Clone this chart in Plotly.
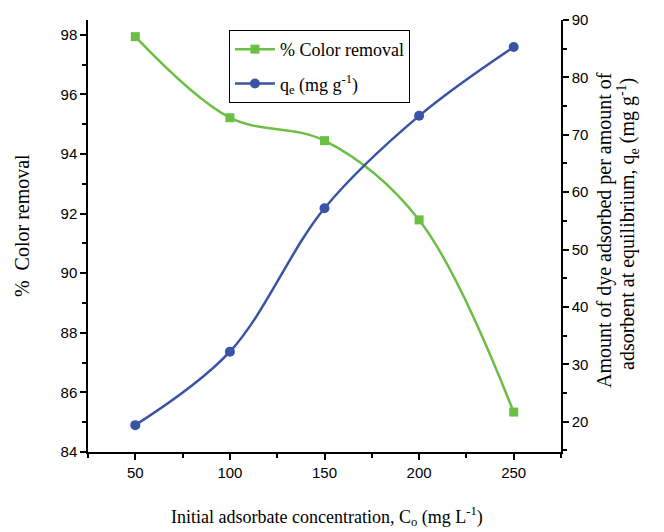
import plotly.graph_objects as go

# Initial adsorbate concentration (mg/L)
concentration = [50, 100, 150, 200, 250]
# Percentage colour removal (left axis)
color_removal = [97.94, 95.22, 94.45, 91.79, 85.34]
# Equilibrium adsorption capacity q_e in mg/g (right axis)
qe = [19.4, 32.2, 57.2, 73.3, 85.3]

x_ticks = [50, 100, 150, 200, 250]
left_ticks = [84, 86, 88, 90, 92, 94, 96, 98]
right_ticks = [20, 30, 40, 50, 60, 70, 80, 90]

GREEN = "#6cbf45"
BLUE = "#3a53a6"
SERIF = "Liberation Serif, Times New Roman, serif"
SANS = "Liberation Sans, Arial, sans-serif"

fig = go.Figure()
fig.add_trace(go.Scatter(
    x=concentration, y=color_removal, name="% Color removal",
    mode="lines+markers", legendgroup="a",
    line=dict(color=GREEN, width=2.5, shape="spline", smoothing=1),
    marker=dict(symbol="square", size=9, color=GREEN),
    yaxis="y",
))
fig.add_trace(go.Scatter(
    x=concentration, y=qe, name="q<sub>e</sub> (mg g<sup>-1</sup>)",
    mode="lines+markers", legendgroup="b",
    line=dict(color=BLUE, width=2.5, shape="spline", smoothing=1),
    marker=dict(symbol="circle", size=10, color=BLUE),
    yaxis="y2",
))

axis_common = dict(
    showgrid=False, zeroline=False, showline=True, linecolor="black",
    linewidth=1.5, ticks="outside", ticklen=6, tickwidth=1.5,
    tickcolor="black", tickfont=dict(family=SANS, size=15, color="black"),
)

fig.update_layout(
    width=664, height=532,
    margin=dict(l=88, r=103, t=20, b=80),
    paper_bgcolor="white", plot_bgcolor="white",
    xaxis=dict(
        range=[25, 275], tickvals=x_ticks,
        minor=dict(dtick=25, tick0=25, ticks="outside", ticklen=4,
                   tickwidth=1.5, tickcolor="black"),
        **axis_common,
    ),
    yaxis=dict(
        range=[84, 98.5], tickvals=left_ticks,
        minor=dict(dtick=1, tick0=84, ticks="outside", ticklen=4,
                   tickwidth=1.5, tickcolor="black"),
        **axis_common,
    ),
    yaxis2=dict(
        range=[14.72, 90], tickvals=right_ticks, overlaying="y", side="right",
        minor=dict(dtick=5, tick0=20, ticks="outside", ticklen=4,
                   tickwidth=1.5, tickcolor="black"),
        **axis_common,
    ),
    legend=dict(
        x=0.298, y=0.977, xanchor="left", yanchor="top",
        bordercolor="black", borderwidth=1, bgcolor="white",
        font=dict(family=SERIF, size=18, color="black"),
        itemwidth=40, tracegroupgap=8,
    ),
    showlegend=True,
)

# Axis titles placed as annotations for precise positioning
title_font = dict(family=SERIF, color="black")
fig.add_annotation(
    text="Initial adsorbate concentration, C<sub>o</sub> (mg L<sup>-1</sup>)",
    xref="paper", yref="paper", x=0.505, y=-0.150,
    xanchor="center", yanchor="middle", showarrow=False,
    font=dict(size=18, **title_font),
)
fig.add_annotation(
    text="%  Color removal",
    xref="paper", yref="paper", x=-0.1395, y=0.523,
    xanchor="center", yanchor="middle", showarrow=False, textangle=-90,
    font=dict(size=20, **title_font),
)
fig.add_annotation(
    text="Amount of dye adsorbed per amount of",
    xref="paper", yref="paper", x=(604 - 88) / 473, y=(452 - 230) / 432,
    xanchor="center", yanchor="middle", showarrow=False, textangle=-90,
    font=dict(size=20, **title_font),
)
fig.add_annotation(
    text="adsorbent at equilibrium, q<sub>e</sub> (mg g<sup>-1</sup>)",
    xref="paper", yref="paper", x=(628 - 88) / 473, y=(452 - 224) / 432,
    xanchor="center", yanchor="middle", showarrow=False, textangle=-90,
    font=dict(size=20, **title_font),
)

fig.write_html("out.html")
